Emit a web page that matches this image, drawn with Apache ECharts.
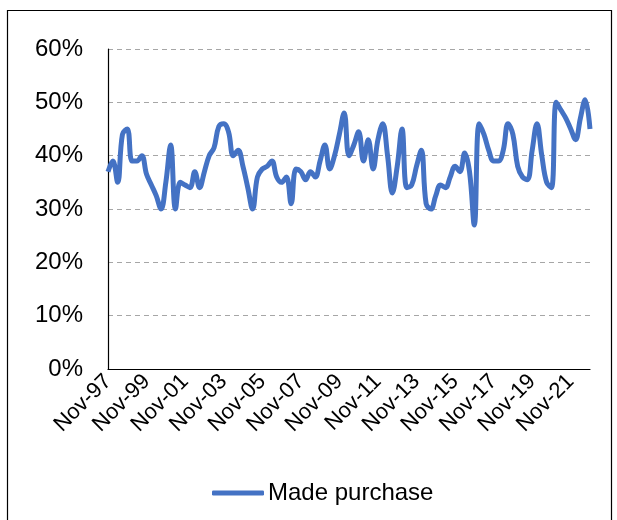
<!DOCTYPE html>
<html>
<head>
<meta charset="utf-8">
<script src="https://cdn.jsdelivr.net/npm/echarts@6/dist/echarts.min.js"></script>
<style>
  html, body { margin: 0; padding: 0; background: #fff; }
  #chart { width: 617px; height: 520px; }
</style>
</head>
<body>
<div id="chart"></div>
<script>
// quarterly survey, Nov-97 .. Nov-22
const months = ['Nov', 'Feb', 'May', 'Aug']
const startYear = 1997
const pointCount = 101

const madePurchase = [
  37, 39, 35, 44, 45, 39, 39, 40, 36.5, 34.5,
  32.5, 30, 35, 42, 30, 35, 34.5, 34, 37, 34,
  37, 40, 41.5, 45.5, 46, 44.5, 40, 41, 38, 34,
  30, 36, 37.5, 38, 39, 36, 35, 36, 31, 37.5,
  37, 35.5, 37, 36, 39, 42, 37.5, 40, 44, 48,
  40, 42, 44.5, 39, 43, 37.5, 43, 46, 40, 33,
  38, 45, 34, 34.5, 38, 41, 31, 30, 32.5, 34.5,
  34, 36, 38, 37, 40.5, 37, 27, 46, 44, 41,
  39, 39, 41, 46, 44, 38, 36, 35.5, 41, 46,
  40, 35, 34, 50, 48.5, 47, 45, 43, 47, 50.5,
  45
]

const yTicks = { min: 0, max: 60, step: 10 }

// Nov is the first quarter of the next label year
const categories = []
for (let i = 0; i < pointCount; i++) {
  const y = i % 4 === 0 ? startYear + i / 4 : startYear + Math.floor(i / 4) + 1
  categories.push(months[i % 4] + '-' + String(y % 100).padStart(2, '0'))
}

const chart = echarts.init(document.getElementById('chart'))

const option = {
  animation: false,
  textStyle: { fontFamily: 'Liberation Sans, Arial, sans-serif' },
  grid: { left: 108, right: 27, top: 49, bottom: 151 },
  graphic: [{
    type: 'rect',
    shape: { x: 7.5, y: 10.5, width: 604, height: 530 },
    style: { fill: 'none', stroke: '#000', lineWidth: 1.2 },
    silent: true
  }],
  legend: {
    left: 207,
    top: 476,
    data: ['Made purchase'],
    icon: 'roundRect',
    itemWidth: 52,
    itemHeight: 5,
    itemGap: 4,
    textStyle: { fontSize: 24, color: '#000', padding: [0, 0, 0, -1] }
  },
  xAxis: {
    type: 'category',
    data: categories,
    boundaryGap: false,
    axisLine: { lineStyle: { color: '#000', width: 1.2 } },
    axisTick: { show: false },
    axisLabel: {
      interval: 7,
      rotate: 45,
      fontSize: 22,
      color: '#000',
      margin: 9
    },
    splitLine: { show: false }
  },
  yAxis: {
    type: 'value',
    min: yTicks.min,
    max: yTicks.max,
    interval: yTicks.step,
    axisLine: { show: true, lineStyle: { color: '#000', width: 1.2 } },
    axisTick: { show: false },
    axisLabel: {
      formatter: '{value}%',
      fontSize: 24,
      color: '#000',
      margin: 25
    },
    splitLine: { lineStyle: { color: '#A6A6A6', type: [5, 4], width: 1 } }
  },
  series: [{
    name: 'Made purchase',
    type: 'line',
    data: madePurchase,
    smooth: 0.4,
    symbol: 'none',
    lineStyle: { color: '#4472C4', width: 5 },
    itemStyle: { color: '#4472C4' }
  }]
}

chart.setOption(option)
</script>
</body>
</html>
